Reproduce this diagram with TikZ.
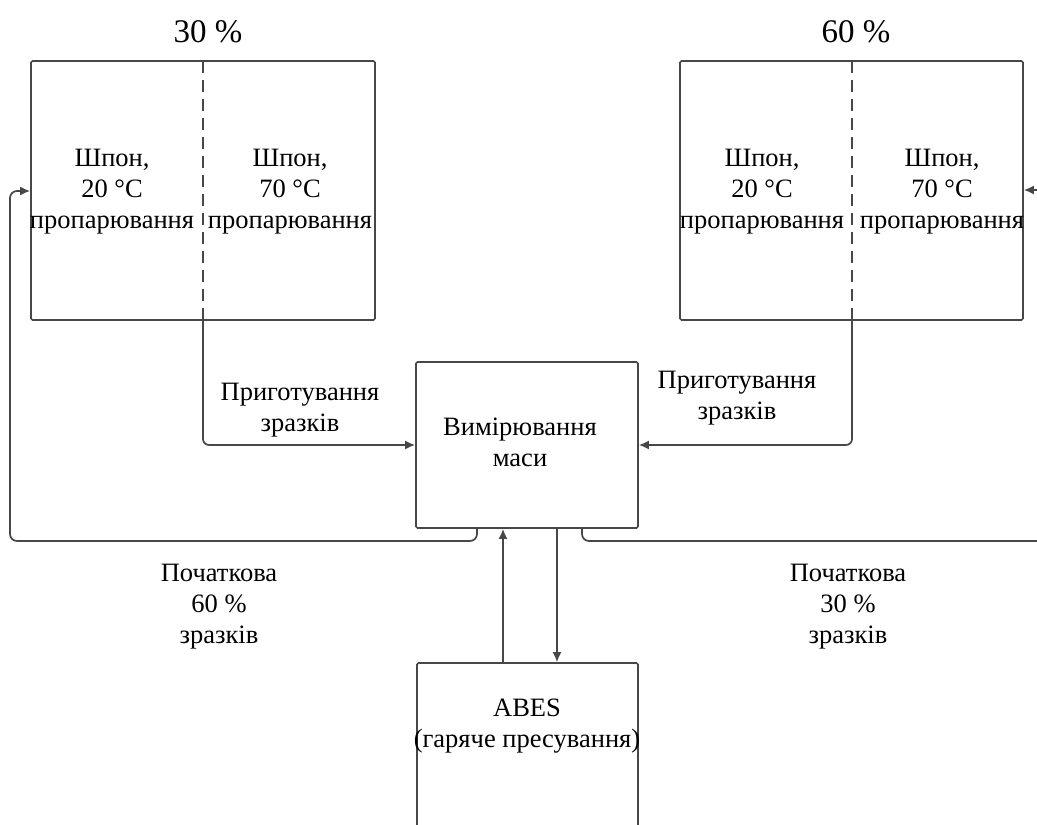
\documentclass[tikz,border=0pt]{standalone}
\usepackage{fontspec}
\setmainfont{Liberation Serif}
\usetikzlibrary{arrows.meta}
\begin{document}
\begin{tikzpicture}[x=1pt,y=-1pt,
  ln/.style={line width=1.7pt, draw=black!72},
  arr/.style={ln, -{Latex[length=10pt,width=9pt]}},
  box/.style={ln, rectangle, inner sep=0pt, rounded corners=1.5pt},
  txt/.style={font=\fontsize{26.5}{31}\selectfont, align=center, inner sep=0pt},
  big/.style={font=\fontsize{33}{38}\selectfont, inner sep=0pt}]
\clip (0,0) rectangle (1037,825);
% boxes
\node[box, minimum width=344pt, minimum height=259pt] (b1) at (203,190.5) {};
\node[box, minimum width=343pt, minimum height=259pt] (b2) at (851.5,190.5) {};
\node[box, minimum width=222pt, minimum height=166pt] (mass) at (527,445) {};
\node[box, minimum width=221pt, minimum height=260pt] (abes) at (527.5,793) {};
% dashed dividers
\coordinate (d1t) at (203,61); \coordinate (d1b) at (203,320);
\coordinate (d2t) at (852,61); \coordinate (d2b) at (852,320);
\draw[ln, dash pattern=on 12pt off 7pt] (d1t) -- (d1b);
\draw[ln, dash pattern=on 12pt off 7pt] (d2t) -- (d2b);
% titles
\node[big] (t1) at (208,32) {30 \%};
\node[big] (t2) at (856,32) {60 \%};
% box texts
\node[txt] (b1l) at (112,192) {Шпон,\\20 °C\\пропарювання};
\node[txt] (b1r) at (290,192) {Шпон,\\70 °C\\пропарювання};
\node[txt] (b2l) at (762,192) {Шпон,\\20 °C\\пропарювання};
\node[txt] (b2r) at (942,192) {Шпон,\\70 °C\\пропарювання};
\node[txt] (masst) at (520,442) {Вимірювання\\маси};
\node[txt] (abest) at (527,726) {ABES\\(гаряче пресування)};
% labels
\node[txt] (l1) at (300,410) {Приготування\\зразків};
\node[txt] (l2) at (737,398) {Приготування\\зразків};
\node[txt] (l3) at (219,607) {Початкова\\60 \%\\зразків};
\node[txt] (l4) at (848,607) {Початкова\\30 \%\\зразків};
% connectors
\draw[arr, rounded corners=6pt] (d1b) -- (203,445) -- (mass.west |- 0,445);
\draw[arr, rounded corners=6pt] (d2b) -- (852,445) -- (mass.east |- 0,445);
\coordinate (m1) at (477,528);
\coordinate (m2) at (582,528);
\draw[arr, rounded corners=7pt] (m1) -- (477,541) -- (10,541) -- (10,191) -- (b1.west |- 0,191);
\coordinate (rfar) at (1050,541);
\draw[arr, rounded corners=7pt] (m2) -- (582,541) -- (rfar) -- (1050,190) -- (b2.east |- 0,190);
\draw[arr] (abes.north -| 503,0) -- (mass.south -| 503,0);
\draw[arr] (mass.south -| 557,0) -- (abes.north -| 557,0);
\end{tikzpicture}
\end{document}
